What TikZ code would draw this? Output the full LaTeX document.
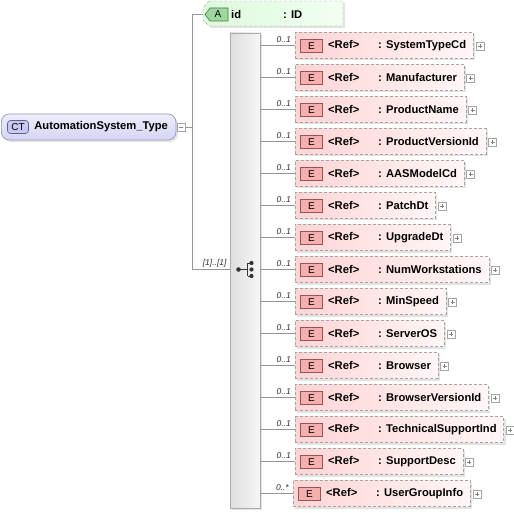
\documentclass[tikz,border=0pt]{standalone}
\usepackage{fontspec}
\setmainfont{Liberation Sans}
\usetikzlibrary{shadows,calc}
\definecolor{elemL}{RGB}{255,212,212}
\definecolor{elemR}{RGB}{255,246,246}
\definecolor{elemD}{RGB}{165,165,165}
\definecolor{ebFill}{RGB}{245,175,175}
\definecolor{ebDraw}{RGB}{150,85,85}
\definecolor{ctL}{RGB}{212,212,245}
\definecolor{ctR}{RGB}{238,238,252}
\definecolor{ctD}{RGB}{150,150,195}
\definecolor{cbFill}{RGB}{200,200,240}
\definecolor{cbDraw}{RGB}{95,95,150}
\definecolor{atL}{RGB}{220,250,220}
\definecolor{atR}{RGB}{242,255,242}
\definecolor{abFill}{RGB}{160,215,160}
\definecolor{abDraw}{RGB}{70,125,70}
\definecolor{seqL}{RGB}{222,222,222}
\definecolor{seqR}{RGB}{246,246,246}
\definecolor{lineC}{RGB}{150,150,150}
\begin{document}
\begin{tikzpicture}[x=1pt,y=-1pt,
  conn/.style={draw=lineC, line width=0.6pt},
  shad/.style={drop shadow={shadow xshift=2pt, shadow yshift=-2pt, opacity=0.22, fill=gray}},
  elembox/.style={draw=elemD, dash pattern=on 3pt off 2pt, left color=elemL, right color=elemR,
    minimum height=26pt, inner xsep=0pt, inner ysep=0pt, anchor=west,
    font=\bfseries\fontsize{11.2}{13}\selectfont, shad},
  ebadge/.style={draw=ebDraw, fill=ebFill, minimum width=22pt, minimum height=13pt, inner sep=0pt,
    font=\fontsize{10}{12}\selectfont, line width=0.6pt},
  plusbox/.style={draw=gray!70, fill=white, minimum size=8pt, inner sep=0pt, line width=0.5pt,
    path picture={\draw[gray, line width=0.5pt] ([xshift=2pt]path picture bounding box.west) -- ([xshift=-2pt]path picture bounding box.east);
      \draw[gray, line width=0.5pt] ([yshift=2pt]path picture bounding box.south) -- ([yshift=-2pt]path picture bounding box.north);}},
  minusbox/.style={draw=gray!70, fill=white, minimum size=8pt, inner sep=0pt, line width=0.5pt,
    path picture={\draw[gray, line width=0.5pt] ([xshift=2pt]path picture bounding box.west) -- ([xshift=-2pt]path picture bounding box.east);}},
  mult/.style={font=\itshape\fontsize{8.5}{10}\selectfont, text=black!80, inner sep=0pt, anchor=south east},
  ctbox/.style={draw=ctD, top color=ctR, bottom color=ctL, rounded corners=8pt, minimum height=26pt,
    inner xsep=0pt, inner ysep=0pt, anchor=west, font=\bfseries\fontsize{11.2}{13}\selectfont, line width=0.7pt, shad},
  ctbadge/.style={draw=cbDraw, fill=cbFill, rounded corners=3pt, minimum width=21pt, minimum height=13pt,
    inner sep=0pt, font=\fontsize{10}{12}\selectfont, line width=0.6pt},
  seqbox/.style={draw=gray!65, left color=seqL, right color=seqR, minimum width=30pt, minimum height=475pt,
    inner sep=0pt, line width=0.6pt, shad},
  attrshape/.style={draw=elemD, dash pattern=on 3pt off 2pt, left color=atL, right color=atR, shad},
  abadge/.style={draw=abDraw, fill=abFill, line width=0.6pt},
  txt/.style={inner sep=0pt, anchor=west, font=\bfseries\fontsize{11.2}{13}\selectfont}
]
\useasboundingbox (0,0) rectangle (514,513);

% complex type
\node[ctbox] (ct) at (1,127) {\hspace*{33pt}AutomationSystem\_Type\hspace*{8pt}};
\node[ctbadge] (ctb) at ([xshift=17pt]ct.west) {CT};
\node[minusbox] (mb) at ([xshift=5pt]ct.east) {};

% attribute
\path[attrshape] (209,1) -- (343,1) -- (343,26) -- (209,26) -- (203,20) -- (203,8) -- cycle;
\path[abadge] (210,8) -- (228,8) -- (228,21) -- (210,21) -- (205,14.5) -- cycle;
\node[inner sep=0pt, font=\fontsize{10}{12}\selectfont] (ab) at (218,14.5) {A};
\node[txt] (attid) at (231,14.5) {id};
\node[txt] (atttype) at (283,14.5) {: ID};
\coordinate (attw) at (203,14.5);

% sequence
\node[seqbox] (seq) at (245,270.5) {};
\draw[black!80, line width=1pt] (238.5,269.5) -- (247.5,269.5)
  (247.5,263) -- (247.5,276) (247.5,263) -- (251.5,263) (247.5,276) -- (251.5,276);
\fill[black!80] (238.5,269.5) circle (2.3pt);
\fill[black!80] (251.5,263) circle (2.1pt) (251.5,269.5) circle (2.1pt) (251.5,276) circle (2.1pt);

% connectors of the type
\coordinate (vtop) at (192,14.5);
\coordinate (vbot) at (192,269.5);
\draw[conn] (mb.east) -- (mb.east -| vtop);
\draw[conn] (vtop) -- (vbot);
\draw[conn] (vtop) -- (attw);
\draw[conn] (vbot) -- (vbot -| seq.west);
\node[mult] (seqmult) at ($(vbot -| seq.west)+(-3,-2.5)$) {[1]..[1]};

% elements
\foreach \nm [count=\i from 0] in {SystemTypeCd,Manufacturer,ProductName,ProductVersionId,AASModelCd,PatchDt,UpgradeDt,NumWorkstations,MinSpeed,ServerOS,Browser,BrowserVersionId,TechnicalSupportInd,SupportDesc}{
  \node[elembox] (e\i) at (295,45.5+32*\i) {\hspace*{33pt}\makebox[50pt][l]{<Ref>}: \nm\hspace*{7pt}};
  \node[ebadge] (eb\i) at ([xshift=16.5pt,yshift=-0.5pt]e\i.west) {E};
  \node[plusbox] (p\i) at ([xshift=6.5pt,yshift=-0.5pt]e\i.east) {};
  \draw[conn] (seq.east |- e\i.west) -- (e\i.west);
  \node[mult] (m\i) at ($(e\i.west)+(-4,-3)$) {0..1};
}
\node[elembox] (e14) at (293,493.5) {\hspace*{33pt}\makebox[50pt][l]{<Ref>}: UserGroupInfo\hspace*{7pt}};
\node[ebadge] (eb14) at ([xshift=16.5pt,yshift=-0.5pt]e14.west) {E};
\node[plusbox] (p14) at ([xshift=6.5pt,yshift=-0.5pt]e14.east) {};
\draw[conn] (seq.east |- e14.west) -- (e14.west);
\node[mult] (m14) at ($(e14.west)+(-4,-3)$) {0..*};
\end{tikzpicture}
\end{document}
